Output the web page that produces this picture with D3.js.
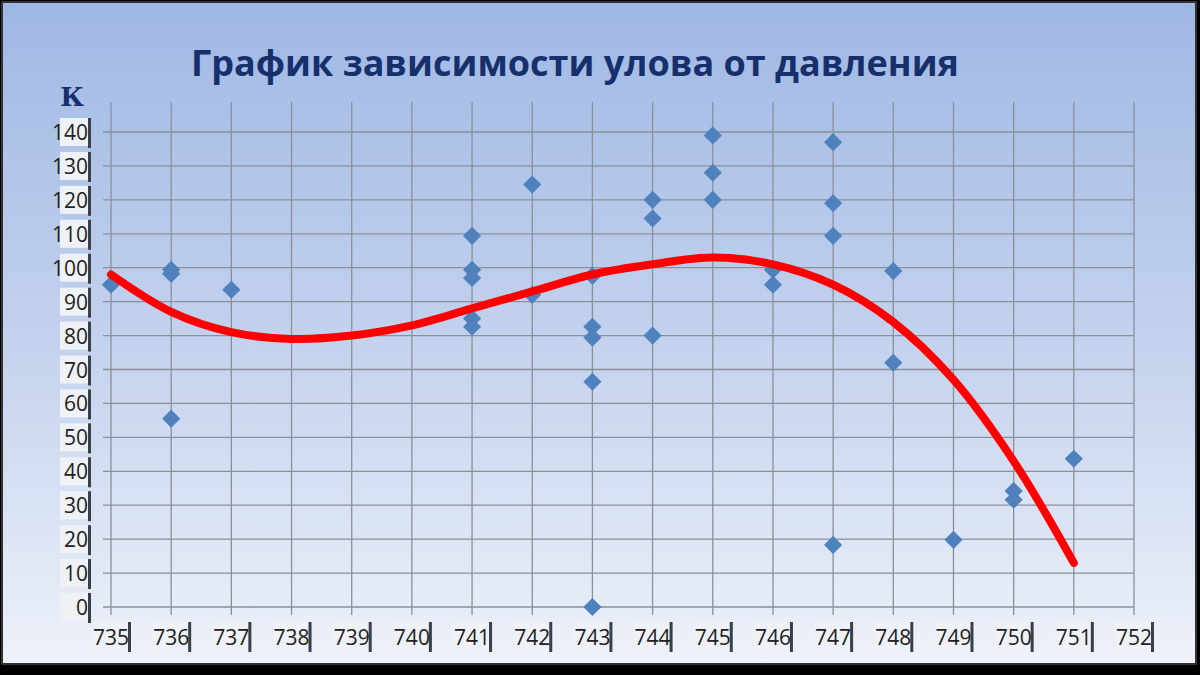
<!DOCTYPE html>
<html><head><meta charset="utf-8">
<script src="https://cdn.jsdelivr.net/npm/d3@7"></script>
<style>body{margin:0;background:#000}</style>
</head><body>
<svg width="1200" height="675"></svg>
<script>
// Data
var pressX = [735,736,736,736,737,741,741,741,741,741,742,742,743,743,743,743,743,744,744,744,745,745,745,746,746,747,747,747,747,748,748,749,750,750,751];
var catchY = [95,99.4,98.2,55.5,93.5,109.4,99.4,97,85,82.6,124.5,92,97.6,82.6,79.4,66.4,0,120,114.5,80,139,128,120,99.4,95,137,119,109.4,18.3,99,72,19.8,34.2,31.6,43.7];
var trendX = [735,736,737,738,739,740,741,742,743,744,745,746,747,748,749,750,751];
var trendY = [98,87,81,79,80,83,88,93,98,101,103,101,95,84,67,43,13];
var xTicks = d3.range(735, 753);
var yTicks = d3.range(0, 150, 10);

var svg = d3.select('svg');
var defs = svg.append('defs');
var g = defs.append('linearGradient').attr('id','bg').attr('x1',0).attr('y1',0).attr('x2',0).attr('y2',1);
g.append('stop').attr('offset','0%').attr('stop-color','#9fb8e4');
g.append('stop').attr('offset','55%').attr('stop-color','#c6d4ee');
g.append('stop').attr('offset','100%').attr('stop-color','#eef2f9');

svg.append('rect').attr('x',2).attr('y',2).attr('width',1194).attr('height',662)
 .attr('fill','url(#bg)').attr('stroke','#333').attr('stroke-width',2);

svg.append('text').attr('x',575).attr('y',76).attr('text-anchor','middle')
 .attr('font-family','Open Sans').attr('font-weight','bold').attr('font-size',36)
 .attr('fill','#17306c').text('График зависимости улова от давления');

svg.append('text').attr('x',72).attr('y',106).attr('text-anchor','middle')
 .attr('font-family','DejaVu Serif').attr('font-weight','bold').attr('font-size',26)
 .attr('fill','#17306c').text('К');

var x = d3.scaleLinear().domain([735, 752]).range([111, 1134]);
var y = d3.scaleLinear().domain([0, 140]).range([607, 132]);

// grid
svg.append('g').selectAll('line').data(xTicks).enter().append('line')
 .attr('x1', function(d) { return x(d); }).attr('x2', function(d) { return x(d); })
 .attr('y1', 102).attr('y2', 615).attr('stroke','#8a9099').attr('stroke-width',1.3);
svg.append('g').selectAll('line').data(yTicks).enter().append('line')
 .attr('x1', 103).attr('x2', 1134)
 .attr('y1', function(d) { return y(d); }).attr('y2', function(d) { return y(d); })
 .attr('stroke','#8a9099').attr('stroke-width',1.3);

// tick labels with little shadowed boxes
var yl = svg.append('g').selectAll('g').data(yTicks).enter().append('g')
 .attr('transform', function(d) { return 'translate(0,' + y(d) + ')'; });
yl.append('rect').attr('x',60).attr('y',-14).attr('width',30).attr('height',28).attr('fill','#eef1f6');
yl.append('rect').attr('x',88).attr('y',-14).attr('width',3).attr('height',30).attr('fill','#3b3f46');
yl.append('text').attr('x',88).attr('y',8).attr('text-anchor','end')
 .attr('font-family','Open Sans').attr('font-size',21).attr('fill','#222')
 .text(function(d) { return d; });

var xl = svg.append('g').selectAll('g').data(xTicks).enter().append('g')
 .attr('transform', function(d) { return 'translate(' + x(d) + ',0)'; });
xl.append('rect').attr('x',-19).attr('y',622).attr('width',37).attr('height',30).attr('fill','#eef1f6');
xl.append('rect').attr('x',17).attr('y',622).attr('width',3).attr('height',30).attr('fill','#3b3f46');
xl.append('text').attr('x',0).attr('y',645).attr('text-anchor','middle')
 .attr('font-family','Open Sans').attr('font-size',21).attr('fill','#222')
 .text(function(d) { return d; });

// points
svg.append('g').selectAll('path').data(pressX).enter().append('path')
 .attr('d', d3.symbol().type(d3.symbolSquare).size(165))
 .attr('transform', function(d, i) { return 'translate(' + x(d) + ',' + y(catchY[i]) + ') rotate(45)'; })
 .attr('fill','#4f81bd');

// trend
var line = d3.line().curve(d3.curveCatmullRom)
 .x(function(d) { return x(d); })
 .y(function(d, i) { return y(trendY[i]); });
svg.append('path').attr('d', line(trendX)).attr('fill','none')
 .attr('stroke','#ff0000').attr('stroke-width',8).attr('stroke-linecap','round');
</script>
</body></html>
